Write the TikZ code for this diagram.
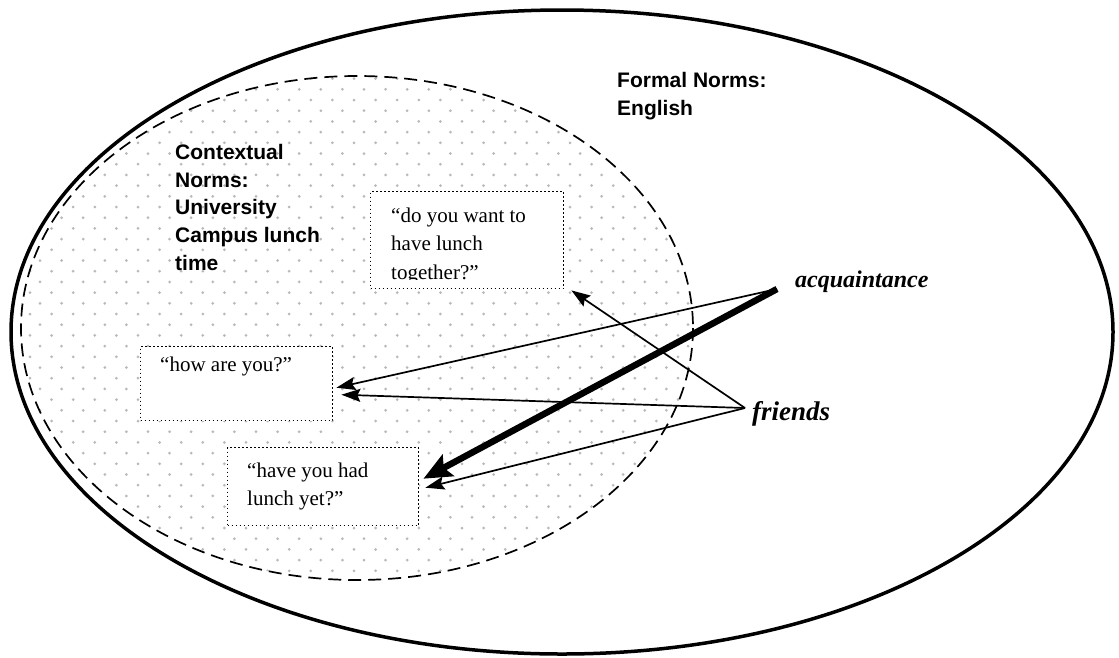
\documentclass[tikz,border=0pt]{standalone}
\usepackage{fontspec}
\setmainfont{Liberation Serif}
\newfontfamily\labelsans{Liberation Sans}
\usetikzlibrary{arrows.meta,calc}

\begin{document}
\begin{tikzpicture}[x=1pt,y=-1pt,
  normtext/.style={font=\labelsans\bfseries\fontsize{21}{25}\selectfont, anchor=base west, inner sep=0pt},
  quote/.style={font=\fontsize{21}{25}\selectfont, anchor=base west, inner sep=0pt},
  rel/.style={font=\bfseries\itshape\fontsize{24}{28}\selectfont, anchor=base west, inner sep=0pt},
  saybox/.style={draw, fill=white, line width=1.4pt, dash pattern=on 1.4pt off 2.6pt, anchor=north west, inner sep=0pt},
  link/.style={line width=1.7pt, -{Stealth[length=19pt,width=13pt,inset=3pt]}},
  strong/.style={line width=6.5pt, -{Stealth[length=28pt,width=24pt,inset=5pt]}},
  spot/.style={fill=gray!55}
]
\useasboundingbox (0,0) rectangle (1119,657);
\fill[white] (0,0) rectangle (1119,657);

% formal norms: the outer ellipse
\draw[line width=3.5pt] (562,332) ellipse [x radius=551, y radius=322];

% contextual norms: a dotted, dashed ellipse
\begin{scope}
  \clip (357,328) ellipse [x radius=336, y radius=252];
  \foreach \k in {-22,...,26} {
    \pgfmathsetmacro\yy{303.3+10.7*\k}
    \pgfmathsetmacro\xo{ifthenelse(mod(\k+30,2)==1,8.4,18.4)}
    \foreach \j in {0,...,32} {
      \fill[spot] (\xo+21.6*\j,\yy) circle (1.5);
    }
  }
\end{scope}
\draw[line width=1.7pt, dash pattern=on 13pt off 7pt] (357,328) ellipse [x radius=336, y radius=252];

% region labels
\node[normtext] (formal1) at (617,87) {Formal Norms:};
\node[normtext] (formal2) at (617,115) {English};
\node[normtext] (ctx1) at (175,159) {Contextual};
\node[normtext] (ctx2) at (175,187) {Norms:};
\node[normtext] (ctx3) at (175,214) {University};
\node[normtext] (ctx4) at (175,242) {Campus lunch};
\node[normtext] (ctx5) at (175,270) {time};

% utterance boxes
\node[saybox, minimum width=193pt, minimum height=97pt] (b1) at (370,191) {};
\node[saybox, minimum width=192pt, minimum height=74pt] (b2) at (140,346) {};
\node[saybox, minimum width=191pt, minimum height=78pt] (b3) at (227,447) {};

\begin{scope}
  \clip (b1.north west) rectangle (563,279);
  \node[quote] (q1a) at (391,222) {“do you want to};
  \node[quote] (q1b) at (391,250) {have lunch};
  \node[quote] (q1c) at (391,279) {together?”};
\end{scope}
\node[quote] (q2) at (160,371) {“how are you?”};
\node[quote] (q3a) at (247,477) {“have you had};
\node[quote] (q3b) at (247,505) {lunch yet?”};

% relationship labels
\node[rel] (acqlabel) at (795,287) {acquaintance};
\node[rel, font=\bfseries\itshape\fontsize{27}{30}\selectfont] (frlabel) at (752,420) {friends};
\coordinate (acq) at (777,289);
\coordinate (fr) at (745,408);

% connectors
\draw[link] (fr) -- ($(b1.south east)+(7,1)$);
\draw[link] (fr) -- ($(b2.east)+(8,11)$);
\draw[link] (fr) -- ($(b3.east)+(6,1)$);
\draw[link] (acq) -- ($(b2.east)+(3,4)$);
\draw[strong] (acq) -- ($(b3.east)+(4,-8)$);
\end{tikzpicture}
\end{document}
